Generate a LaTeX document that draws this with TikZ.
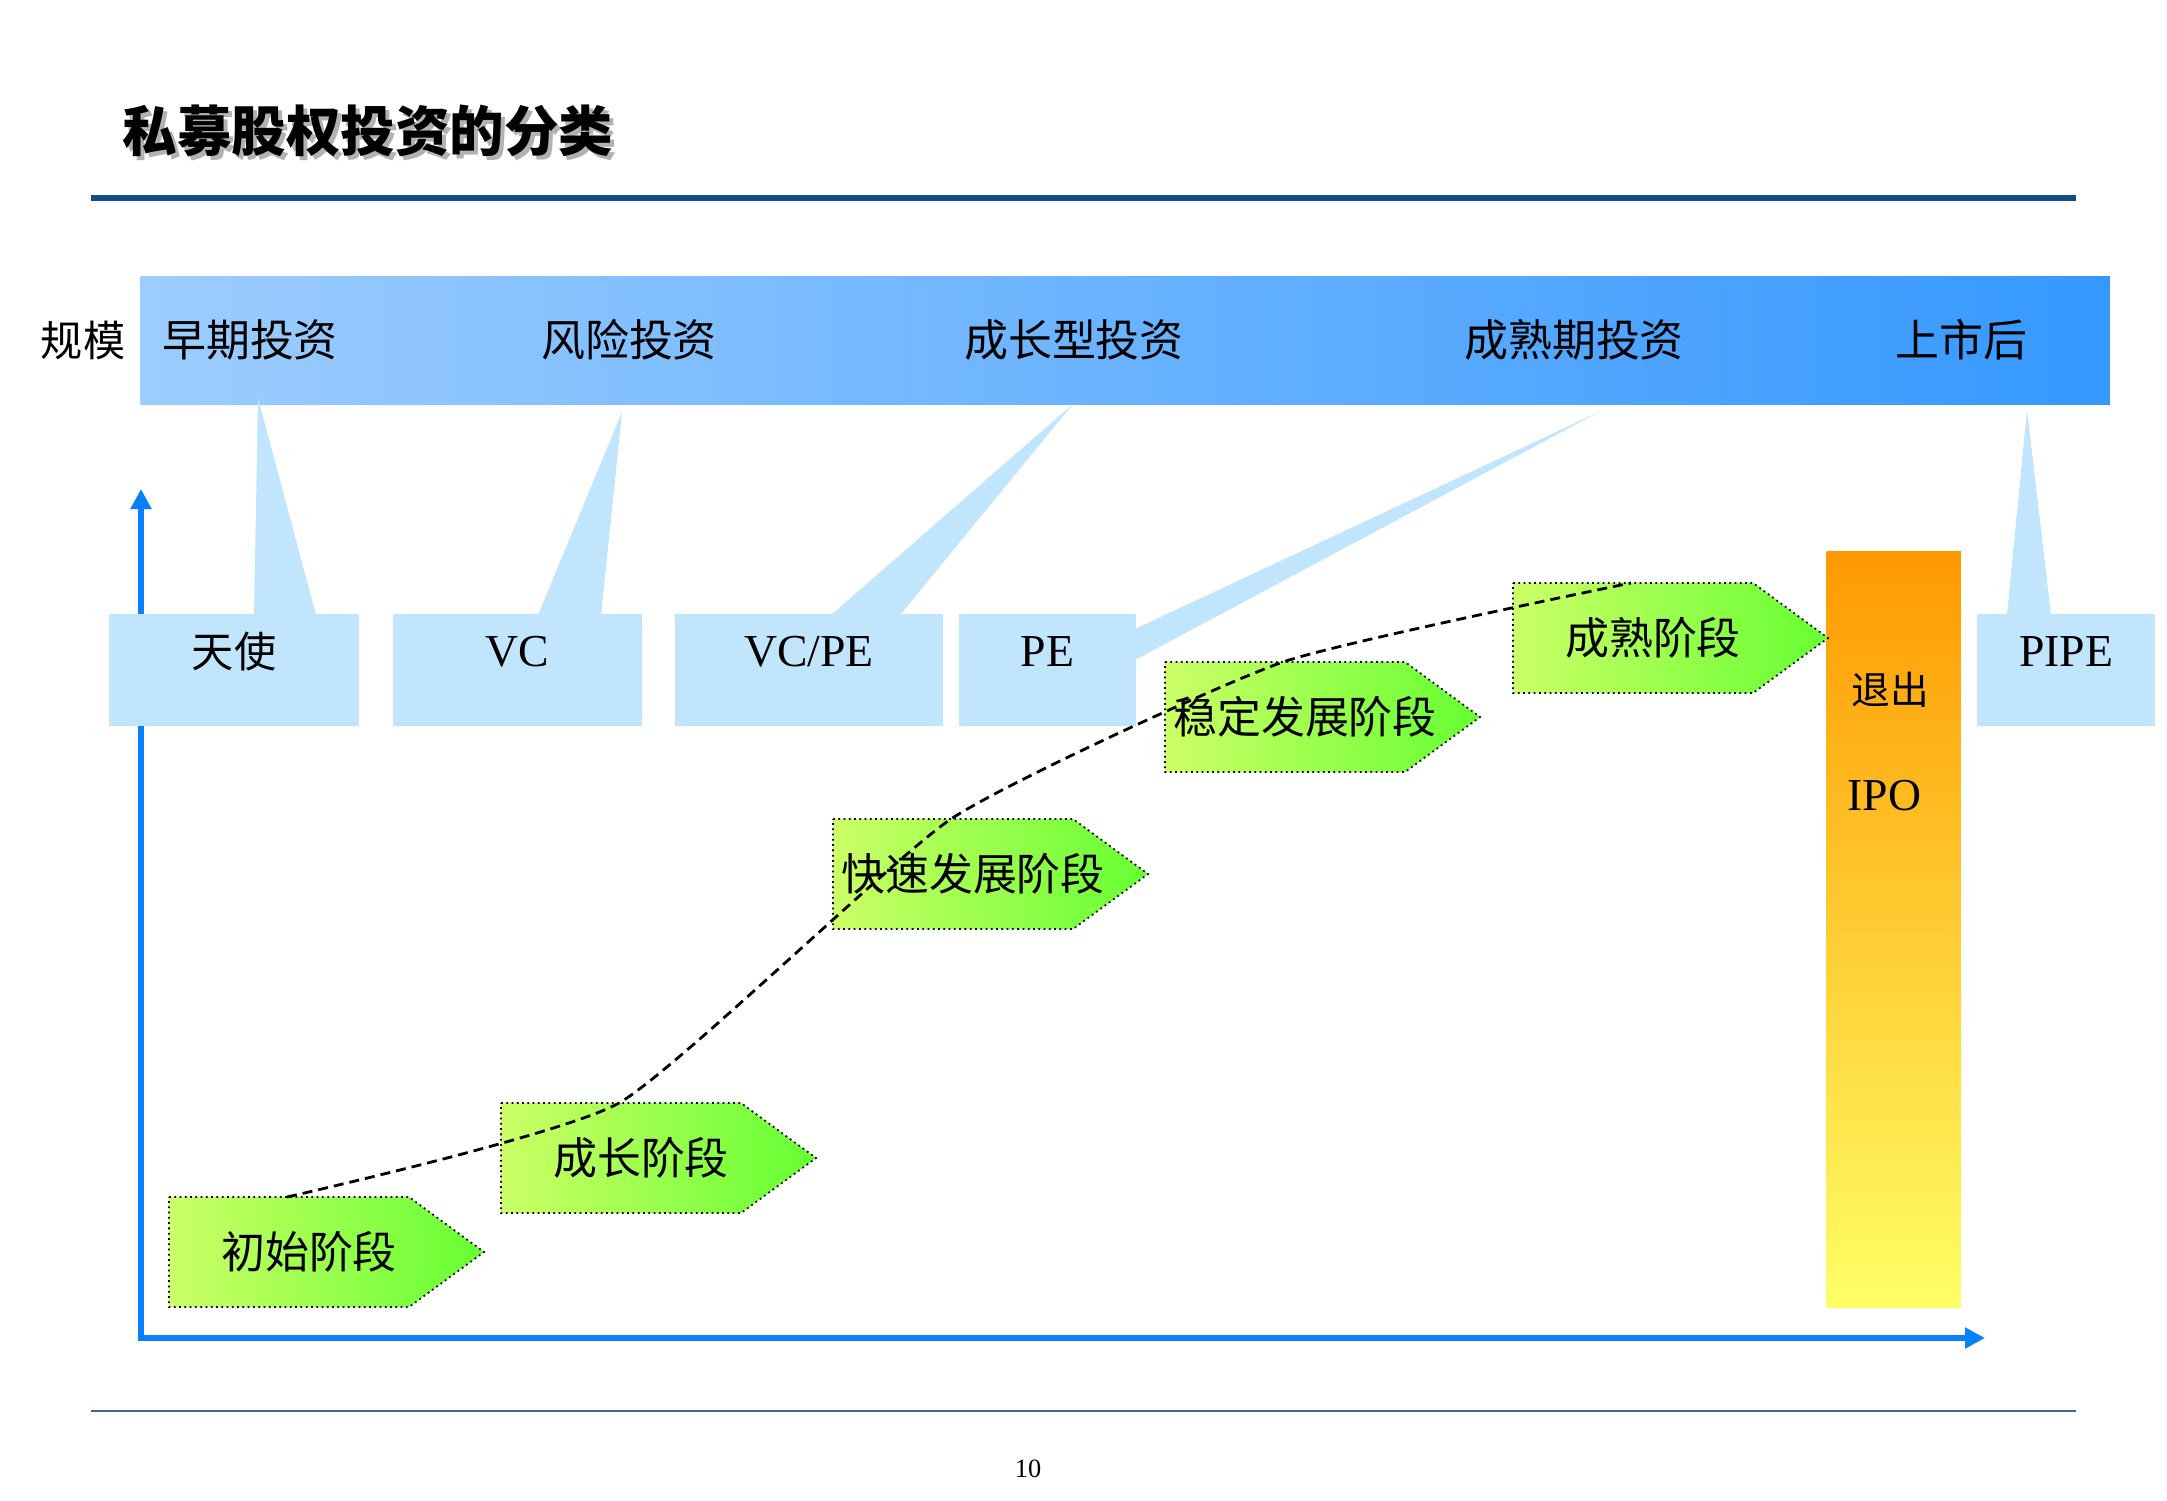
\documentclass[tikz,border=0pt]{standalone}
\usepackage{fontspec}
\setmainfont{Liberation Serif}
\newfontfamily\cjk{Noto Sans CJK SC}
\usetikzlibrary{arrows.meta,calc}

\definecolor{rulec}{HTML}{134E86}
\definecolor{footc}{HTML}{3A6A96}
\definecolor{bandL}{HTML}{9DCDFF}
\definecolor{bandR}{HTML}{3598FF}
\definecolor{paleblue}{HTML}{C0E5FC}
\definecolor{axisc}{HTML}{0A80FF}
\definecolor{stageL}{HTML}{CCFF66}
\definecolor{stageR}{HTML}{66FF33}
\definecolor{exitTop}{HTML}{FF9900}
\definecolor{exitBot}{HTML}{FFFF66}

% one growth stage: name, left x, top y, label
\newcommand\stagearrow[4]{%
  \draw[stageframe] (#2,#3) -- ++(240,0) -- ++(75,55) -- ++(-75,55) -- ++(-240,0) -- cycle;
  \node[stagetext] (#1) at (#2+140,#3+55) {#4};
  \coordinate (#1-top) at (#2+118,#3);
}

\begin{document}
\begin{tikzpicture}[x=0.01cm,y=-0.01cm,
  cjktext/.style={inner sep=0pt, font=\cjk\fontsize{12.5}{14}\selectfont},
  boxcjk/.style={inner sep=0pt, font=\cjk\fontsize{12}{14}\selectfont},
  latin/.style={inner sep=0pt, font=\fontsize{13}{15}\selectfont},
  lowbox/.style={fill=paleblue, draw=none, inner sep=0pt, minimum height=1.12cm},
  wedge/.style={fill=paleblue, draw=none},
  stageframe/.style={draw=black, densely dotted, line width=0.5pt, left color=stageL, right color=stageR},
  stagetext/.style={inner sep=0pt, font=\cjk\fontsize{12.5}{14}\selectfont},
  axis/.style={draw=axisc, line width=1.7pt, {Triangle[length=0.2cm,width=0.2cm]}-{Triangle[length=0.2cm,width=0.2cm]}},
  trend/.style={draw=black, line width=0.8pt, dash pattern=on 0.1cm off 0.06cm}
]
\useasboundingbox (0,0) rectangle (2167,1500);

% heading with its soft shadow and the rule below it
\node[anchor=west, inner sep=0pt, text=black!30, font=\cjk\bfseries\fontsize{15.5}{18}\selectfont] at (126,135) {私募股权投资的分类};
\node[anchor=west, inner sep=0pt, font=\cjk\bfseries\fontsize{15.5}{18}\selectfont] (title) at (122,131) {私募股权投资的分类};
\draw[rulec, line width=0.065cm] (91,198) -- (2076,198);

% investment-type band
\node[anchor=north west, inner sep=0pt, minimum width=19.68cm, minimum height=1.28cm,
      left color=bandL, right color=bandR, draw=none] (band) at (140,276) {};
\node[boxcjk] (scale) at (83,340) {规模};
\node[cjktext] (early)  at (250,340)  {早期投资};
\node[cjktext] (risk)   at (629,340)  {风险投资};
\node[cjktext] (growth) at (1074,340) {成长型投资};
\node[cjktext] (mature) at (1574,340) {成熟期投资};
\node[cjktext] (listed) at (1961,340) {上市后};

% axes
\coordinate (ytip) at (141,489);
\coordinate (xtip) at (1985,1338);
\draw[axis] (ytip) |- (xtip);

% callout wedges from the band down to the investor boxes
\fill[wedge] (258,398) -- (254,615) -- (316,615) -- cycle;
\fill[wedge] (622,412) -- (538,615) -- (601,615) -- cycle;
\fill[wedge] (1073,404) -- (831,615) -- (900,615) -- cycle;
\fill[wedge] (1601,411) -- (1135,629) -- (1135,660) -- cycle;
\fill[wedge] (2027,410) -- (2007,615) -- (2051,615) -- cycle;

% investor boxes
\node[lowbox, minimum width=2.50cm] (angel) at (234,670) {};
\node[lowbox, minimum width=2.49cm] (vc)    at (517.5,670) {};
\node[lowbox, minimum width=2.67cm] (vcpe)  at (809,670) {};
\node[lowbox, minimum width=1.77cm] (pe)    at (1047.5,670) {};
\node[lowbox, minimum width=1.78cm] (pipe)  at (2066,670) {};
\node[boxcjk] at ([yshift=-0.38cm]angel.north) {天使};
\node[latin]  at ([yshift=-0.38cm]vc.north)    {VC};
\node[latin]  at ([yshift=-0.38cm]vcpe.north)  {VC/PE};
\node[latin]  at ([yshift=-0.38cm]pe.north)    {PE};
\node[latin]  at ([yshift=-0.38cm]pipe.north)  {PIPE};

% exit bar
\node[anchor=north west, inner sep=0pt, minimum width=1.34cm, minimum height=7.55cm,
      top color=exitTop, bottom color=exitBot, draw=none] (exit) at (1826,551) {};
\node[anchor=west, inner sep=0pt, font=\cjk\fontsize{11}{13}\selectfont] (exittxt) at (1851,690) {退出};
\node[anchor=west, latin] (ipo) at (1847,796) {IPO};

% growth stages
\stagearrow{s1}{169}{1197}{初始阶段}
\stagearrow{s2}{501}{1103}{成长阶段}
\stagearrow{s3}{833}{819}{快速发展阶段}
\stagearrow{s4}{1165}{662}{稳定发展阶段}
\stagearrow{s5}{1513}{583}{成熟阶段}

% growth trend
\draw[trend] plot[smooth, tension=0.3] coordinates {(s1-top) (s2-top) (s3-top) (s4-top) (s5-top)};

% footer
\draw[footc, line width=0.02cm] (91,1411) -- (2076,1411);
\node[inner sep=0pt, font=\fontsize{7.5}{9}\selectfont] (pageno) at (1028,1469) {10};
\end{tikzpicture}
\end{document}
